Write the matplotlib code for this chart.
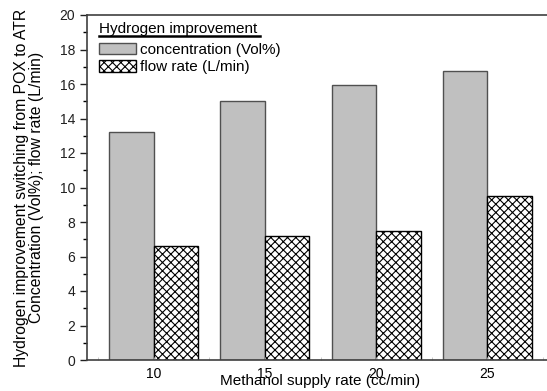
import matplotlib
matplotlib.use("Agg")
import matplotlib.pyplot as plt
import numpy as np
from matplotlib.ticker import MultipleLocator

plt.rcParams['font.family'] = ['Liberation Sans', 'DejaVu Sans']
plt.rcParams['hatch.linewidth'] = 0.8

methanol = [10, 15, 20, 25]
concentration = [13.2, 15.0, 15.95, 16.75]
flow_rate = [6.6, 7.2, 7.45, 9.5]

fig = plt.figure(figsize=(5.47, 3.91), dpi=100)
ax = fig.add_axes([87 / 547, 31 / 391, 467 / 547, 345 / 391])

x = np.array(methanol, float)
w = 2.0
ax.bar(x - w / 2, concentration, w, color="#c0c0c0", edgecolor="#505050",
       linewidth=1.0, label="concentration (Vol%)")
ax.bar(x + w / 2, flow_rate, w, color="white", edgecolor="black",
       hatch="xxxx", linewidth=1.0, label="flow rate (L/min)")

ax.set_xlim(7, 28)
ax.set_ylim(0, 20)
ax.yaxis.set_major_locator(MultipleLocator(2))
ax.yaxis.set_minor_locator(MultipleLocator(1))
ax.set_xticks(methanol)
ax.xaxis.set_minor_locator(MultipleLocator(2.5))
ax.tick_params(axis="y", which="major", direction="out", length=5,
               width=1, labelsize=10, colors="#202020")
ax.tick_params(axis="y", which="minor", direction="out", length=3, width=1)
ax.tick_params(axis="x", which="both", direction="in", length=2,
               width=0.6, color="#c0c0c0", labelsize=10, pad=5)
for s in ["left", "bottom", "top"]:
    ax.spines[s].set_color("#404040")
    ax.spines[s].set_linewidth(1.2)
ax.spines["right"].set_visible(False)

ax.set_xlabel("Methanol supply rate (cc/min)", fontsize=11, labelpad=-5)
ax.set_ylabel("Hydrogen improvement switching from POX to ATR\n"
              "Concentration (Vol%); flow rate (L/min)", fontsize=11.3,
              linespacing=1.0, labelpad=11)

# underlined legend title
ax.text(0.026, 0.948, "Hydrogen improvement", transform=ax.transAxes,
        fontsize=11, va="baseline", ha="left")
ax.plot([0.026, 0.37], [0.94, 0.94], transform=ax.transAxes,
        color="black", linewidth=1.8, clip_on=False)
ax.legend(loc="upper left", bbox_to_anchor=(0.026, 0.92), frameon=False,
          fontsize=11, handlelength=2.4, handleheight=0.75,
          handletextpad=0.25, labelspacing=0.25, borderaxespad=0,
          borderpad=0)

fig.savefig("out.png", dpi=100)
